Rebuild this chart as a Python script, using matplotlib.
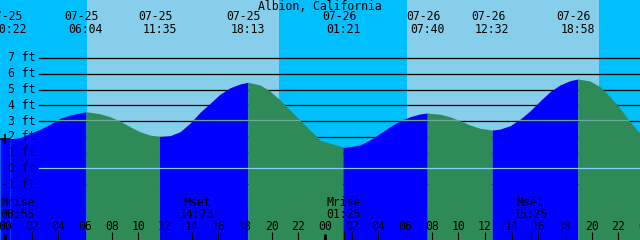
import numpy as np
import matplotlib
matplotlib.use('Agg')
import matplotlib.pyplot as plt
from matplotlib.transforms import blended_transform_factory

# tide chart, hours counted from 07-25 00:00
title = "Albion, California"

ext_dates = ["07-25", "07-25", "07-25", "07-25", "07-26", "07-26", "07-26", "07-26"]
ext_times = ["00:22", "06:04", "11:35", "18:13", "01:21", "07:40", "12:32", "18:58"]
ext_ft = [1.86, 3.59, 2.02, 5.46, 1.33, 3.51, 2.43, 5.67]

# tide level
curve_hours = [-0.375, 1.125, 2.625, 3.375, 4.125, 4.875, 5.625, 7.125, 7.875,
               8.625, 9.375, 10.125, 10.875, 12.375, 13.125, 13.875, 14.625,
               15.375, 16.125, 16.875, 17.625, 19.125, 19.875, 20.625, 21.375,
               22.125, 22.875, 23.625, 24.375, 25.125, 25.875, 26.625, 27.375,
               28.125, 28.875, 29.625, 30.375, 31.125, 32.625, 33.375, 34.125,
               34.875, 35.625, 37.125, 37.875, 38.625, 39.375, 40.125, 40.875,
               41.625, 42.375, 43.875, 44.625, 45.375, 46.125, 46.875, 47.625]
curve_ft = [1.83, 1.95, 2.47, 2.79, 3.17, 3.38, 3.51, 3.46, 3.27,
            3.00, 2.64, 2.32, 2.11, 2.07, 2.32, 2.86, 3.55,
            4.12, 4.70, 5.11, 5.35, 5.29, 4.90, 4.33, 3.70,
            3.06, 2.43, 1.80, 1.59, 1.41, 1.37, 1.48, 1.80,
            2.22, 2.64, 3.02, 3.27, 3.45, 3.43, 3.27, 3.02,
            2.75, 2.54, 2.49, 2.70, 3.11, 3.64, 4.27, 4.86,
            5.29, 5.56, 5.54, 5.18, 4.54, 3.81, 2.96, 2.22]

sunrise = [6.15, 30.15]
sunset = [20.55, 44.55]

moon_labels = ["Mrise", "Mset", "Mrise", "Mset"]
moon_dates = ["07-25", "07-25", "07-26", "07-26"]
moon_times = ["00:55", "14:23", "01:25", "15:25"]

levels = [-1, 0, 1, 2, 3, 4, 5, 6, 7]
mid_level = 3.07
now_ft = 1.85

night_col = '#00bfff'
day_col = '#87ceeb'
rise_col = '#0000ff'
fall_col = '#2e8b57'


def to_hours(date, hm):
    day = int(date.split('-')[1]) - 25
    h, m = hm.split(':')
    return 24 * day + int(h) + int(m) / 60.0


ext_hours = [to_hours(d, t) for d, t in zip(ext_dates, ext_times)]
moon_hours = [to_hours(d, t) for d, t in zip(moon_dates, moon_times)]

t = np.array(curve_hours + ext_hours)
h = np.array(curve_ft + ext_ft)
order = np.argsort(t)
t, h = t[order], h[order]

W, H = 640, 240
x0, x1 = -0.375, 47.625
y0, y1 = -4.55, 10.68

fig = plt.figure(figsize=(6.4, 2.4), dpi=100)
ax = fig.add_axes([0, 0, 1, 1])
ax.set_xlim(x0, x1)
ax.set_ylim(y0, y1)
ax.axis('off')
tr = blended_transform_factory(ax.transData, ax.transAxes)


def py(p):
    # pixel row from top -> axes fraction
    return 1 - p / H


# day / night background
ax.axvspan(x0, x1, color=night_col, zorder=0)
for a, b in zip(sunrise, sunset):
    ax.axvspan(a, b, color=day_col, lw=0, zorder=0.5)

# level lines, hidden under the water
lx0 = x0 + 39 / W * (x1 - x0)
for lv in levels:
    if lv != 0:
        ax.plot([lx0, x1], [lv, lv], color='black', lw=0.9, zorder=1)
for lv in levels:
    ax.text(lx0 - 0.25, lv, "%d ft" % lv, ha='right', va='center',
            family='DejaVu Sans Mono', fontsize=8.3, zorder=6)

# water: blue while rising, green while falling
bounds = [x0] + ext_hours + [x1]
for a, b in zip(bounds[:-1], bounds[1:]):
    m = (t >= a) & (t <= b)
    rising = h[m][-1] > h[m][0]
    ax.fill_between(t[m], h[m], y0 - 1, color=rise_col if rising else fall_col,
                    lw=0, zorder=2)
water = ax.fill_between(t, h, y0 - 1, color='none', lw=0, zorder=2)

mid, = ax.plot([x0, x1], [mid_level, mid_level], color='#6aa89a', lw=0.9, zorder=3)
mid.set_clip_path(water.get_paths()[0], transform=ax.transData)
ax.plot([lx0, x1], [0, 0], color='#87cefa', lw=0.9, zorder=3)

ax.plot([0], [now_ft], marker='+', ms=7, mew=1.3, color='black', zorder=7)

# header
ax.text((x0 + x1) / 2, py(6), title, transform=tr, ha='center', va='center',
        family='DejaVu Sans Mono', fontsize=8.3)
for x, d, s in zip(ext_hours, ext_dates, ext_times):
    ax.text(x - 0.3, py(17), d, transform=tr, ha='center', va='center',
            family='DejaVu Sans Mono', fontsize=8.3)
    ax.text(x, py(29.5), s, transform=tr, ha='center', va='center',
            family='DejaVu Sans Mono', fontsize=8.3)

# moon rise / set
for x, lab, s in zip(moon_hours, moon_labels, moon_times):
    ax.text(x, py(202), lab, transform=tr, ha='center', va='center',
            family='DejaVu Sans Mono', fontsize=8.3)
    ax.text(x, py(214), s, transform=tr, ha='center', va='center',
            family='DejaVu Sans Mono', fontsize=8.3)
    ax.plot([x, x], [py(232), py(240)], transform=tr, color='black', lw=0.8)

# hour axis
for hr in range(0, 49, 2):
    ax.text(hr, py(226), "%02d" % (hr % 24), transform=tr, ha='center',
            va='center', family='DejaVu Sans Mono', fontsize=8.3)
    thick = hr % 24 == 0
    ax.plot([hr, hr], [py(234 if thick else 232), py(240)], transform=tr,
            color='black', lw=2.0 if thick else 0.8, solid_capstyle='butt')

fig.savefig('out.png', dpi=100)
